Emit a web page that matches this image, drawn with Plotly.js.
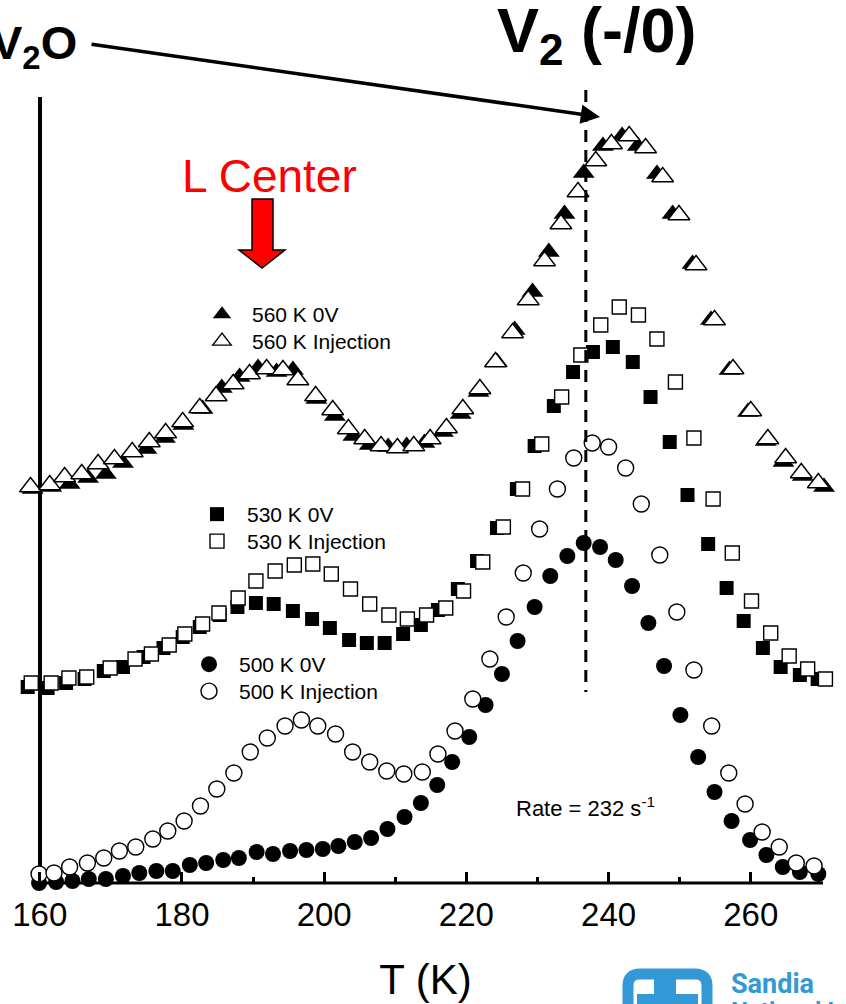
<!DOCTYPE html>
<html>
<head>
<meta charset="utf-8">
<script src="https://cdn.plot.ly/plotly-3.0.1.min.js"></script>
<style>html,body{margin:0;padding:0;background:#fff}</style>
</head>
<body>
<div id="chart" style="width:846px;height:1004px"></div>
<script>
// ---------------- data (T in K, signal in arbitrary units) ----------------
const tickVals = [160, 180, 200, 220, 240, 260];
const tickText = ['160', '180', '200', '220', '240', '260'];
const minorTickVals = [170, 190, 210, 230, 250];

const T_560_0V = [159.0,161.6,164.2,166.8,169.3,171.7,175.0,177.6,180.2,182.9,185.6,188.1,190.7,193.3,195.6,198.9,201.5,204.1,206.4,209.0,211.6,214.1,216.7,219.2,221.7,224.3,226.8,229.3,231.6,233.8,236.5,239.2,241.9,244.1,246.8,249.0,251.8,254.4,257.0,259.6,262.1,264.6,267.3,270.3];
const Y_560_0V = [394,396,399,405,409,420,434,445,458,474,495,506,515,511,513,484,467,447,438,436,437,440,451,469,491,521,553,591,631,669,710,737,747,737,709,669,619,563,513,471,442,421,407,396];

const T_560_INJ = [158.7,161.4,163.5,165.9,168.2,170.5,173.0,175.4,177.7,180.1,182.5,184.8,187.2,189.5,191.9,194.2,196.3,198.8,201.2,203.4,205.7,208.0,210.3,212.6,214.9,217.2,219.5,221.9,224.1,226.5,228.7,231.0,233.3,235.7,238.2,240.4,242.9,245.2,247.6,249.9,252.3,254.9,257.5,260.0,262.4,264.9,267.1,269.5];
const Y_560_INJ = [396,398,406,409,419,424,431,441,450,461,475,487,499,509,514,513,503,487,473,454,444,437,435,437,444,455,474,494,521,550,583,622,659,691,722,739,747,735,706,668,618,563,514,472,444,425,410,400];

const T_530_0V = [158.3,161.1,163.7,166.3,169.0,171.7,174.6,177.4,180.1,182.5,185.3,187.8,190.4,192.9,195.6,198.3,200.8,203.5,206.0,208.5,211.1,213.6,216.0,218.8,221.5,224.3,227.1,229.6,232.3,235.0,237.8,240.6,243.4,245.9,248.6,251.1,254.0,256.6,259.0,261.7,264.2,266.9,269.4];
const Y_530_0V = [196,195,200,204,212,216,226,235,246,256,268,276,280,279,272,264,255,243,240,240,249,258,273,294,322,355,394,437,477,511,531,536,521,486,441,388,339,295,262,235,216,208,204];

const T_530_INJ = [158.8,161.6,164.1,166.6,169.9,173.4,175.7,178.2,180.4,182.9,185.2,187.9,190.4,193.1,195.8,198.4,201.0,203.7,206.4,209.1,211.7,214.4,217.1,219.6,222.3,225.2,227.9,230.6,233.4,236.1,238.9,241.5,244.2,246.8,249.4,252.0,254.7,257.4,260.1,262.8,265.4,268.0,270.5];
const Y_530_INJ = [200,200,205,206,215,224,229,238,249,259,270,285,302,312,318,319,309,294,279,268,264,268,275,292,321,356,394,439,486,528,558,576,568,544,501,445,384,330,282,250,227,214,204];

const T_500_0V = [159.9,162.3,164.6,166.9,169.3,171.7,174.0,176.4,178.7,181.1,183.4,185.8,188.0,190.5,192.8,195.2,197.5,199.8,202.0,204.3,206.6,208.9,211.3,213.6,215.9,218.0,220.4,222.7,225.0,227.2,229.6,231.8,234.2,236.5,238.8,241.0,243.3,245.6,247.8,250.1,252.6,254.9,257.3,259.9,262.2,264.5,266.9,269.5];
const Y_500_0V = [0,1,2,4,4,7,10,12,12,18,20,23,25,31,29,32,33,34,37,41,45,54,66,80,98,121,146,178,209,242,276,307,327,340,336,323,297,260,217,168,126,91,62,43,28,16,11,9];

const T_500_INJ = [159.9,162.0,164.2,166.7,169.0,171.2,173.5,175.9,178.0,180.3,182.6,184.9,187.3,189.6,192.0,194.5,196.8,199.1,201.6,204.0,206.4,208.8,211.2,213.8,216.0,218.4,220.9,223.3,225.6,228.0,230.3,232.8,235.1,237.7,240.0,242.4,244.6,247.2,249.6,252.0,254.5,256.9,259.2,261.6,264.0,266.4,268.9];
const Y_500_INJ = [9,10,16,20,25,32,36,44,52,62,77,94,110,131,145,157,163,157,149,131,121,112,109,111,129,152,184,224,266,310,354,394,425,440,436,415,379,328,271,213,157,110,79,51,36,20,17];

const seriesNames = ['560 K 0V', '560 K Injection', '530 K 0V', '530 K Injection', '500 K 0V', '500 K Injection'];
const V2_PEAK_T = 236.8;
const X_RANGE = [157.5, 271.0];

// ---------------- layout helpers (pixel -> paper) ----------------
const W = 846, H = 1004;
const PL = 22, PR = 829, PT = 97, PB = 883;
const px = x => (x - PL) / (PR - PL);
const py = y => (PB - y) / (PB - PT);
const FONT = 'Liberation Sans, Arial, Helvetica, sans-serif';

function filled(name, x, y, symbol, size, legend) {
  return {type: 'scatter', mode: 'markers', name, x, y, legend, cliponaxis: false,
    marker: {symbol, size, color: '#000000', line: {width: 0}}};
}
function open(name, x, y, symbol, size, legend) {
  return {type: 'scatter', mode: 'markers', name, x, y, legend, cliponaxis: false,
    marker: {symbol, size, color: '#ffffff', line: {width: 1.4, color: '#000000'}}};
}

const traces = [
  filled(seriesNames[0], T_560_0V, Y_560_0V, 'triangle-up', 19, 'legend'),
  open(seriesNames[1], T_560_INJ, Y_560_INJ, 'triangle-up', 19, 'legend2'),
  filled(seriesNames[2], T_530_0V, Y_530_0V, 'square', 14, 'legend3'),
  open(seriesNames[3], T_530_INJ, Y_530_INJ, 'square', 14, 'legend4'),
  filled(seriesNames[4], T_500_0V, Y_500_0V, 'circle', 16, 'legend5'),
  open(seriesNames[5], T_500_INJ, Y_500_INJ, 'circle', 16, 'legend6')
];

// legend entry placed by its text start (x) and text baseline (y), in pixels
function legendAt(textX, baseline) {
  return {x: px(textX - 60), y: py(baseline - 28), xanchor: 'left', yanchor: 'top', bgcolor: 'rgba(0,0,0,0)',
    borderwidth: 0, font: {family: FONT, size: 21, color: '#000'}, itemwidth: 50,
    traceorder: 'normal', tracegroupgap: 0};
}

const P = (x, y) => px(x) + ',' + py(y);
// red block arrow (L Center)
const redArrowPts = [[252,199],[273,199],[273,250],[285,250],[262,268],[239,250],[252,250]];
const redArrowPath = 'M' + redArrowPts.map(p => P(p[0], p[1])).join('L') + 'Z';

// Sandia logo pieces
const logoFrame = 'M' + P(640,974) + 'L' + P(695,974) + 'Q' + P(707,974) + ' ' + P(707,986) +
  'L' + P(707,1030) + 'M' + P(628,1030) + 'L' + P(628,986) + 'Q' + P(628,974) + ' ' + P(640,974);
const logoMark = 'M' + [[654,979],[676,979],[676,994],[698,994],[698,1012],[637,1012],[637,994],[654,994]]
  .map(p => P(p[0], p[1])).join('L') + 'Z';
const SANDIA = '#3399d6';

const layout = {
  width: W, height: H,
  margin: {l: PL, r: W - PR, t: PT, b: H - PB, pad: 0},
  paper_bgcolor: '#ffffff', plot_bgcolor: '#ffffff',
  font: {family: FONT, color: '#000'},
  showlegend: true,
  xaxis: {
    range: X_RANGE,
    showgrid: false, zeroline: false, showline: false,
    ticks: 'inside', ticklen: 11, tickwidth: 3, tickcolor: '#000',
    tickvals: tickVals, ticktext: tickText, ticklabelstandoff: 9,
    minor: {tickvals: minorTickVals, ticks: 'inside', ticklen: 6, tickwidth: 3, tickcolor: '#000'},
    tickfont: {family: FONT, size: 33, color: '#000'},
    title: {text: 'T (K)', font: {family: FONT, size: 42, color: '#000'}, standoff: 32},
    automargin: false, fixedrange: true
  },
  yaxis: {
    range: [0, PB - PT],
    showgrid: false, zeroline: false, showline: false,
    ticks: '', showticklabels: false,
    automargin: false, fixedrange: true
  },
  legend: legendAt(252, 322),
  legend2: legendAt(252, 349),
  legend3: legendAt(247, 522),
  legend4: legendAt(247, 549),
  legend5: legendAt(239, 672),
  legend6: legendAt(239, 699),
  shapes: [
    // axis lines
    {type: 'line', xref: 'paper', yref: 'paper', x0: px(40), x1: px(40), y0: py(886), y1: py(97),
     line: {color: '#000', width: 4}, layer: 'below'},
    {type: 'line', xref: 'paper', yref: 'paper', x0: px(38), x1: px(823), y0: py(883), y1: py(883),
     line: {color: '#000', width: 3}, layer: 'below'},
    {type: 'line', xref: 'x', yref: 'paper', x0: V2_PEAK_T, x1: V2_PEAK_T, y0: py(90), y1: py(692),
     line: {color: '#000', width: 3, dash: '12px,8px'}},
    {type: 'path', xref: 'paper', yref: 'paper', path: redArrowPath,
     fillcolor: '#ff0000', line: {color: '#000', width: 1.5}},
    {type: 'path', xref: 'paper', yref: 'paper', path: logoFrame,
     line: {color: SANDIA, width: 11}},
    {type: 'path', xref: 'paper', yref: 'paper', path: logoMark,
     fillcolor: SANDIA, line: {color: SANDIA, width: 0}}
  ],
  annotations: [
    {xref: 'paper', yref: 'paper', x: px(79), y: py(46), xanchor: 'right', yanchor: 'middle',
     text: '<b>V<sub>2</sub>O</b>', showarrow: false, font: {family: FONT, size: 47, color: '#000'}},
    {xref: 'paper', yref: 'paper', x: px(600), y: py(117), ax: -510, ay: -73,
     text: '', showarrow: true, arrowhead: 2, arrowsize: 1.1, arrowwidth: 3.5, arrowcolor: '#000'},
    {xref: 'paper', yref: 'paper', x: px(597), y: py(35), xanchor: 'center', yanchor: 'middle',
     text: '<b>V<sub>2</sub> (-/0)</b>', showarrow: false, font: {family: FONT, size: 63, color: '#000'}},
    {xref: 'paper', yref: 'paper', x: px(269), y: py(176), xanchor: 'center', yanchor: 'middle',
     text: 'L Center', showarrow: false, font: {family: FONT, size: 46, color: '#ff0000'}},
    {xref: 'paper', yref: 'paper', x: px(514), y: py(807), xanchor: 'left', yanchor: 'middle',
     text: 'Rate = 232 s<sup>-1</sup>', showarrow: false, font: {family: FONT, size: 22, color: '#000'}},
    {xref: 'paper', yref: 'paper', x: px(729), y: py(984), xanchor: 'left', yanchor: 'middle',
     text: '<b>Sandia</b>', showarrow: false,
     font: {family: 'Roboto, Liberation Sans, sans-serif', size: 27, color: SANDIA}},
    {xref: 'paper', yref: 'paper', x: px(729), y: py(1011), xanchor: 'left', yanchor: 'middle',
     text: '<b>National Laboratories</b>', showarrow: false,
     font: {family: 'Roboto, Liberation Sans, sans-serif', size: 24, color: SANDIA}}
  ]
};

Plotly.newPlot('chart', traces, layout, {displayModeBar: false, staticPlot: true});
</script>
</body>
</html>
